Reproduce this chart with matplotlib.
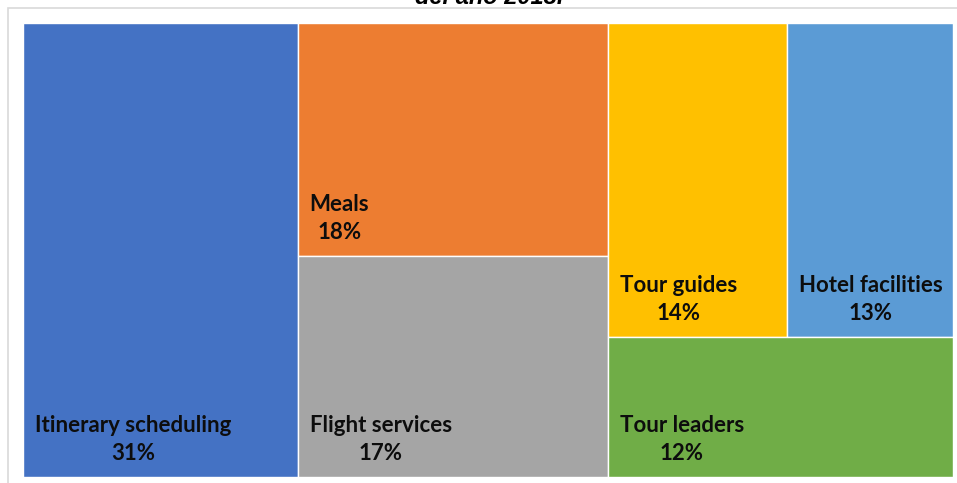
import matplotlib
matplotlib.use("Agg")
import matplotlib.pyplot as plt
from matplotlib.patches import Rectangle

# Data
categories = ["Itinerary scheduling", "Meals", "Flight services",
              "Tour guides", "Hotel facilities", "Tour leaders"]
values = [31, 18, 17, 14, 13, 12]
colors = ["#4472C4", "#ED7D31", "#A5A5A5", "#FFC000", "#5B9BD5", "#70AD47"]
title_text = "del año 2018."

FIG_W, FIG_H = 957, 483
DPI = 100

# Plot area in pixels (left, top, right, bottom)
PL, PT, PR, PB = 23, 23, 953, 477
AW, AH = PR - PL, PB - PT


def worst(row, side):
    s = sum(row)
    return max(max(side * side * r / (s * s), (s * s) / (side * side * r)) for r in row)


def squarify(vals, x, y, w, h):
    """Squarified treemap layout; vals are areas summing to w*h."""
    rects = []
    vals = list(vals)
    while vals:
        side = min(w, h)
        row = [vals[0]]
        i = 1
        while i < len(vals) and worst(row + [vals[i]], side) <= worst(row, side):
            row.append(vals[i])
            i += 1
        vals = vals[i:]
        s = sum(row)
        if w >= h:
            cw = s / h
            cy = y
            for r in row:
                rh = r / cw
                rects.append((x, cy, cw, rh))
                cy += rh
            x += cw
            w -= cw
        else:
            rh = s / w
            cx = x
            for r in row:
                rw = r / rh
                rects.append((cx, y, rw, rh))
                cx += rw
            y += rh
            h -= rh
    return rects


total = sum(values)
areas = [v / total * AW * AH for v in values]
rects = squarify(areas, 0, 0, AW, AH)

fig = plt.figure(figsize=(FIG_W / DPI, FIG_H / DPI), dpi=DPI)
fig.patch.set_facecolor("white")

# Outer chart frame
frame = Rectangle((8 / FIG_W, -0.1), 1.2, (FIG_H - 8) / FIG_H + 0.1,
                  transform=fig.transFigure, fill=False,
                  edgecolor="#D9D9D9", linewidth=1.2)
fig.patches.append(frame)

ax = fig.add_axes([PL / FIG_W, (FIG_H - PB) / FIG_H, AW / FIG_W, AH / FIG_H])
ax.set_xlim(0, AW)
ax.set_ylim(AH, 0)
ax.axis("off")

for (x, y, w, h), name, val, col in zip(rects, categories, values, colors):
    ax.add_patch(Rectangle((x, y), w, h, facecolor=col,
                           edgecolor="white", linewidth=1.0))
    ax.text(x + 12, y + h - 13, f"{name}\n{val}%", ha="left", va="bottom",
            multialignment="center", fontsize=16, fontweight="bold",
            family=["Lato", "DejaVu Sans"], color="#0D0D0D",
            linespacing=1.42)

fig.text(489 / FIG_W, 1 - 3.5 / FIG_H, title_text, ha="center", va="baseline",
         fontsize=17, fontweight="bold", fontstyle="italic",
         family=["Liberation Sans", "DejaVu Sans"], color="black")

fig.savefig("out.png", dpi=DPI)
